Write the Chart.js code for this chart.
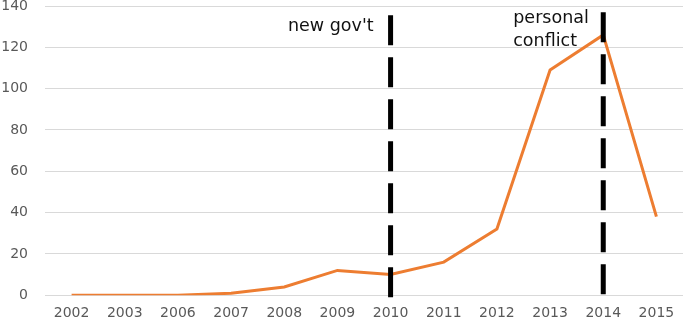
<!DOCTYPE html>
<html>
<head>
<meta charset="utf-8">
<script src="https://cdn.jsdelivr.net/npm/chart.js@4/dist/chart.umd.min.js"></script>
<style>
  html, body { margin: 0; padding: 0; background: #fff; }
  #wrap { width: 685px; height: 320px; }
</style>
</head>
<body>
<div id="wrap"><canvas id="chart"></canvas></div>
<script>
const years = ['2002', '2003', '2006', '2007', '2008', '2009', '2010', '2011', '2012', '2013', '2014', '2015'];
const counts = [0, 0, 0, 1, 4, 12, 10, 16, 32, 109, 126, 38];
const yTicks = [0, 20, 40, 60, 80, 100, 120, 140];

const eventYears = ['2010', '2014'];
const eventTops = [135.5, 137];
const eventBottoms = [-1, -0.5];
const eventLabels = [["new gov't"], ['personal', 'conflict']];

const tickFont = { family: 'DejaVu Sans', size: 14 };

const eventLines = eventYears.map((yr, i) => ({
  data: [{ x: yr, y: eventTops[i] }, { x: yr, y: eventBottoms[i] }],
  borderColor: '#000',
  borderWidth: 5,
  borderDash: [30, 12],
  borderCapStyle: 'butt',
  pointRadius: 0,
  fill: false,
  clip: false,
  order: 0
}));

const eventText = {
  id: 'eventText',
  afterDatasetsDraw(chart) {
    const { ctx, scales: { x, y } } = chart;
    ctx.save();
    ctx.font = '17.5px "DejaVu Sans"';
    ctx.fillStyle = '#111';
    ctx.textBaseline = 'middle';
    // first label sits left of its line, second one is left-aligned further out
    const px0 = x.getPixelForValue(years.indexOf(eventYears[0]));
    ctx.textAlign = 'right';
    ctx.fillText(eventLabels[0][0], px0 - 17, y.getPixelForValue(130));
    const px1 = x.getPixelForValue(years.indexOf(eventYears[1]));
    ctx.textAlign = 'left';
    eventLabels[1].forEach((t, k) => {
      ctx.fillText(t, px1 - 90, y.getPixelForValue(134 - k * 11));
    });
    ctx.restore();
  }
};

new Chart(document.getElementById('chart').getContext('2d'), {
  type: 'line',
  data: {
    labels: years,
    datasets: [
      ...eventLines,
      {
        data: counts,
        borderColor: '#ED7D31',
        borderWidth: 3,
        pointRadius: 0,
        tension: 0,
        fill: false,
        order: 1
      }
    ]
  },
  options: {
    responsive: true,
    maintainAspectRatio: false,
    animation: false,
    layout: { padding: { top: 6, right: 2, left: 0, bottom: -12 } },
    plugins: { legend: { display: false }, tooltip: { enabled: false } },
    scales: {
      x: {
        type: 'category',
        offset: true,
        grid: { display: false, drawTicks: false },
        border: { display: false },
        ticks: { color: '#595959', font: tickFont, padding: 10, maxRotation: 0, autoSkip: false }
      },
      y: {
        min: 0,
        max: 140,
        afterBuildTicks(axis) { axis.ticks = yTicks.map(v => ({ value: v })); },
        afterFit(axis) {
          axis.width = 45;
          axis.paddingTop = 0;
          axis.paddingBottom = 0;
        },
        grid: { color: '#d9d9d9', lineWidth: 1, drawTicks: false },
        border: { display: false },
        ticks: { color: '#595959', font: tickFont, padding: 17 }
      }
    }
  },
  plugins: [eventText]
});
</script>
</body>
</html>
